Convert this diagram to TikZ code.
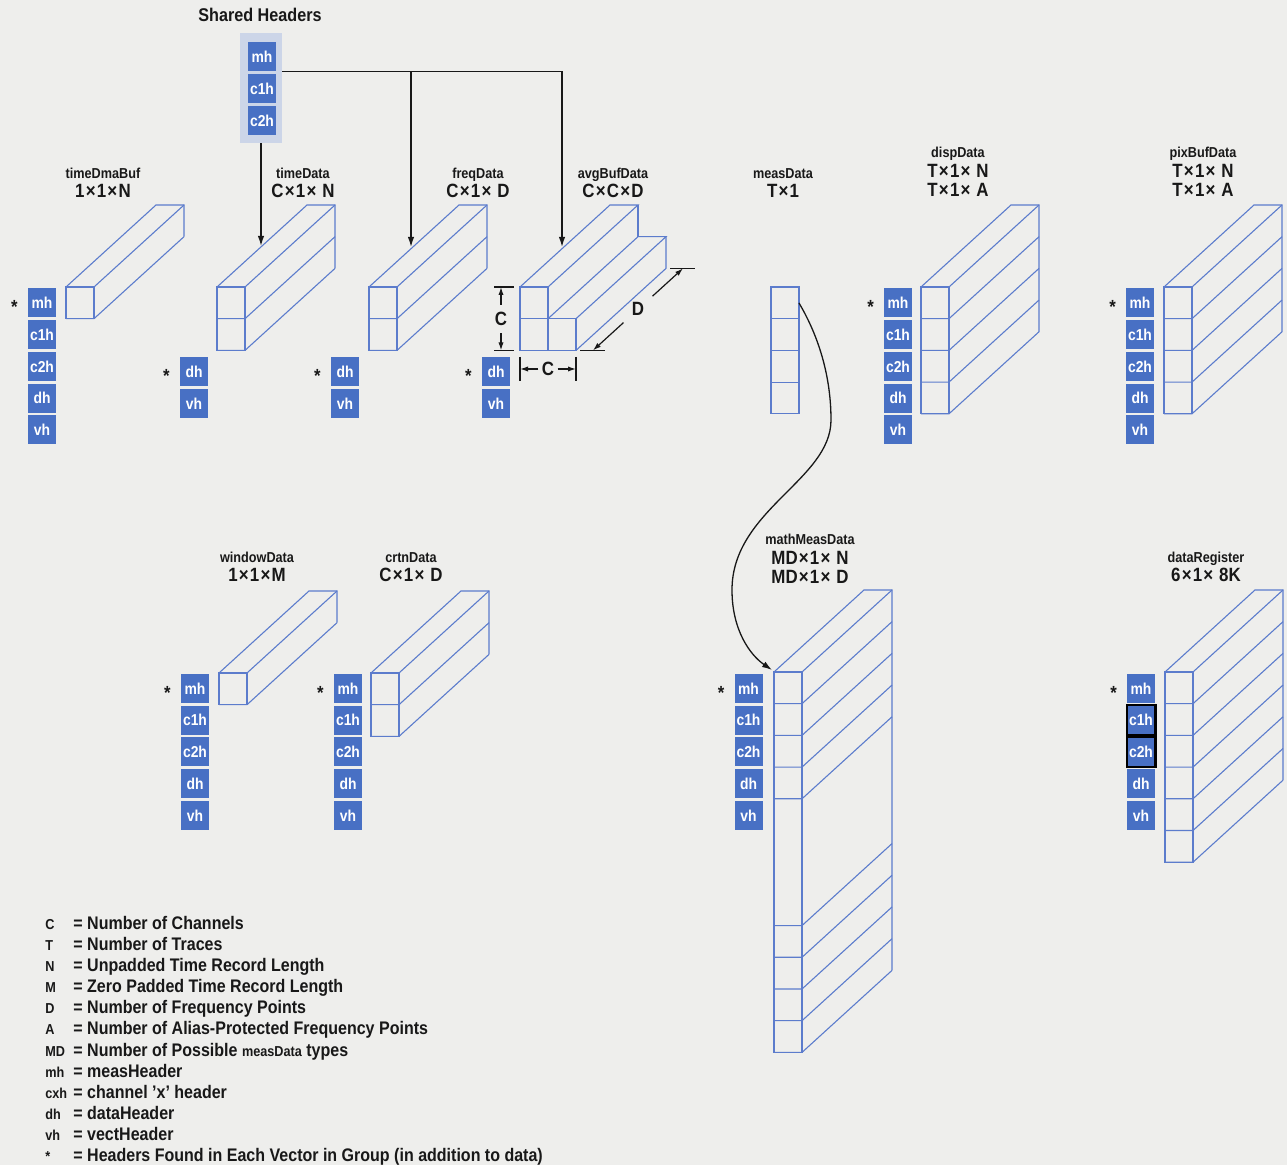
\documentclass[tikz,border=0pt]{standalone}
\usepackage{fontspec}
\setmainfont{Liberation Sans}[FakeStretch=0.88]
\usepackage{tikz}
\usetikzlibrary{arrows.meta, calc}
\definecolor{paper}{RGB}{238,238,236}
\definecolor{hdrblue}{RGB}{72,112,196}
\definecolor{vecblue}{RGB}{92,124,204}
\definecolor{shbg}{RGB}{204,213,232}
\definecolor{ink}{RGB}{24,24,24}
\newcommand{\lgsmall}{\fontsize{7.2}{8}\selectfont}
\newcommand{\tms}{\kern0.6pt×\kern0.6pt}
\newcommand{\vecbox}[4]{%
  \draw[vecline] (#1,#2) rectangle ++(28,{#3*31.7});
  \draw[vecline] (#1,#2) -- ++(90,-82) -- ++(28,0) -- ++(0,{#3*31.7});
  \foreach \k in {#4}
    \draw[vecline] (#1,{#2+\k*31.7}) -- ++(28,0) -- ++(90,-82);
}

\begin{document}
\begin{tikzpicture}[x=0.5pt, y=-0.5pt,
    hdr/.style={fill=hdrblue, text=white, minimum width=14pt, minimum height=14.5pt, inner sep=0pt, font=\bfseries\fontsize{7.9}{8}\selectfont},
    hstar/.style={font=\bfseries\fontsize{9.5}{10}\selectfont, inner sep=0pt, text=ink},
    vecline/.style={draw=vecblue, line width=0.55pt},
    conn/.style={-{Latex[length=5pt, width=3.2pt]}, line width=0.65pt, ink},
    dimarr/.style={-{Latex[length=4pt, width=2.6pt]}, line width=0.6pt, ink},
    vname/.style={font=\bfseries\fontsize{7.2}{8}\selectfont, anchor=base, inner sep=0pt, text=ink},
    vdim/.style={font=\bfseries\fontsize{9.6}{10}\selectfont, anchor=base, inner sep=0pt, text=ink},
    dimlbl/.style={font=\bfseries\fontsize{9.6}{10}\selectfont, text=ink},
    lgsym/.style={font=\bfseries\lgsmall, anchor=base west, inner sep=0pt, text=ink},
    lgtxt/.style={font=\bfseries\fontsize{9.1}{10}\selectfont, anchor=base west, inner sep=0pt, text=ink},
]
  \fill[paper] (0,0) rectangle (1287,1165);
  \useasboundingbox (0,0) rectangle (1287,1165);

  % shared headers
  \node[vname, font=\bfseries\fontsize{9.2}{10}\selectfont] (sh-title) at (260,22) {Shared Headers};
  \node[fill=shbg, minimum width=21pt, minimum height=55pt, inner sep=0pt] (shared) at (261,88) {};
  \foreach \i/\name in {0/mh,1/c1h,2/c2h}
    \node[hdr] (sh-\name) at (262,{56.5+\i*32}) {\name};

  \coordinate (td-in) at (261,246);
  \coordinate (fd-in) at (411,247);
  \coordinate (ab-in) at (562,247);
  \draw[conn] (shared.south) -- (td-in);
  \draw[conn] (shared.east |- sh-mh.south) -| (ab-in);
  \draw[conn] (sh-mh.south -| fd-in) -- (fd-in);

  % vectors
  \vecbox{66}{287}{1}{0,1}
  \vecbox{217}{287}{2}{0,1,2}
  \vecbox{369}{287}{2}{0,1,2}
  \vecbox{921}{287}{4}{0,...,4}
  \vecbox{1164}{287}{4}{0,...,4}
  \vecbox{219}{673}{1}{0,1}
  \vecbox{371}{673}{2}{0,1,2}
  \vecbox{774}{672}{12}{0,1,2,3,4,8,9,10,11,12}
  \vecbox{1165}{672}{6}{0,...,6}

  \draw[vecline] (520,287) rectangle (548,350.4);
  \draw[vecline] (520,318.7) -- (548,318.7);
  \draw[vecline] (548,318.7) rectangle (576,350.4);
  \draw[vecline] (520,287) -- (610,205) -- (638,205) -- (548,287);
  \draw[vecline] (638,205) -- (638,236.7);
  \draw[vecline] (548,318.7) -- (638,236.7) -- (666,236.7) -- (576,318.7);
  \draw[vecline] (666,236.7) -- (666,268.4) -- (576,350.4);

  \foreach \i in {0,...,3}
    \draw[vecline] (771,{287+\i*31.7}) rectangle ++(28,31.7);

  % dimensions of avgBufData
  \draw[ink, line width=0.6pt] (494,287) -- (514,287) (494,350.4) -- (514,350.4);
  \draw[ink, line width=0.6pt] (520,357) -- (520,381) (576,357) -- (576,381);
  \draw[ink, line width=0.6pt] (580,350.4) -- (605,350.4) (670,268.4) -- (695,268.4);
  \node[dimlbl, inner sep=3.6pt] (cvert) at (501,319) {C};
  \node[dimlbl, inner sep=1.6pt] (chor) at (548,369) {C};
  \node[dimlbl, inner sep=4pt] (dimD) at (638,309.4) {D};
  \coordinate (cvert-top) at (501,287);
  \coordinate (cvert-bot) at (501,350.4);
  \coordinate (chor-l) at (520,369);
  \coordinate (chor-r) at (576,369);
  \coordinate (dimD-lo) at (593,350.4);
  \coordinate (dimD-hi) at (683,268.4);
  \draw[dimarr] (cvert) -- (cvert-top);
  \draw[dimarr] (cvert) -- (cvert-bot);
  \draw[dimarr] (chor) -- (chor-l);
  \draw[dimarr] (chor) -- (chor-r);
  \draw[dimarr] (dimD) -- (dimD-lo);
  \draw[dimarr] (dimD) -- (dimD-hi);

  % header stacks
  \foreach \pre/\xx/\yy/\list in {tdb/42/303/{mh,c1h,c2h,dh,vh}, td/194/372/{dh,vh}, fd/345/372/{dh,vh}, ab/496/372/{dh,vh},
      dd/898/303/{mh,c1h,c2h,dh,vh}, pb/1140/303/{mh,c1h,c2h,dh,vh}, wd/195/688.5/{mh,c1h,c2h,dh,vh},
      cd/348/688.5/{mh,c1h,c2h,dh,vh}, mm/748.5/688.5/{mh,c1h,c2h,dh,vh}, dr/1141/688.5/{mh,c1h,c2h,dh,vh}} {
    \foreach \name [count=\i from 0] in \list
      \node[hdr] (\pre-\name) at (\xx,{\yy+\i*31.7}) {\name};
    \node[hstar] (\pre-star) at ({\xx-27.5},{\yy+4}) {*};
  }
  \draw[black, line width=1.1pt] (dr-c1h.north west) rectangle (dr-c1h.south east);
  \draw[black, line width=1.1pt] (dr-c2h.north west) rectangle (dr-c2h.south east);

  % labels
  \foreach \pre/\xx/\yy/\title/\dimtxt in {tdb/103/178.7/timeDmaBuf/1\tms1\tms N, td/303/178.7/timeData/C\tms1\tms\ N,
      fd/478/178.7/freqData/C\tms1\tms\ D, ab/613/178.7/avgBufData/C\tms C\tms D, ms/783/178.7/measData/T\tms1,
      wd/257/562.7/windowData/1\tms1\tms M, cd/411/562.7/crtnData/C\tms1\tms\ D, dr/1206/562.7/dataRegister/6\tms1\tms\ 8K} {
    \node[vname] (\pre-name) at (\xx,\yy) {\title};
    \node[vdim] (\pre-dim) at (\xx,{\yy+19}) {\dimtxt};
  }
  \foreach \pre/\xx/\yy/\title/\dimtxt/\dimtxtb in {dd/958/158/dispData/T\tms1\tms\ N/T\tms1\tms\ A,
      pb/1203/158/pixBufData/T\tms1\tms\ N/T\tms1\tms\ A, mm/810/544.7/mathMeasData/MD\tms1\tms\ N/MD\tms1\tms\ D} {
    \node[vname] (\pre-name) at (\xx,\yy) {\title};
    \node[vdim] (\pre-dim) at (\xx,{\yy+20}) {\dimtxt};
    \node[vdim] (\pre-dimb) at (\xx,{\yy+39}) {\dimtxtb};
  }

  % measData to mathMeasData
  \coordinate (ms-out) at (799,303);
  \coordinate (mm-in) at (772,670);
  \draw[conn] (ms-out) .. controls (815,330) and (831,370) .. (831,420)
      .. controls (831,480) and (732,510) .. (732,590)
      .. controls (732,630) and (750,655) .. (mm-in);

  % legend
  \foreach \i/\sym/\txt in {0/C/Number of Channels, 1/T/Number of Traces, 2/N/Unpadded Time Record Length,
      3/M/Zero Padded Time Record Length, 4/D/Number of Frequency Points, 5/A/Number of Alias-Protected Frequency Points,
      6/MD/{Number of Possible {\lgsmall measData} types}, 7/mh/measHeader, 8/cxh/channel 'x' header, 9/dh/dataHeader,
      10/vh/vectHeader, 11/*/Headers Found in Each Vector in Group (in addition to data)} {
    \node[lgsym] (sym-\i) at (45,{929.5+\i*21.1}) {\sym};
    \node[lgtxt] (txt-\i) at (73,{929.5+\i*21.1}) {= \txt};
  }
\end{tikzpicture}
\end{document}
